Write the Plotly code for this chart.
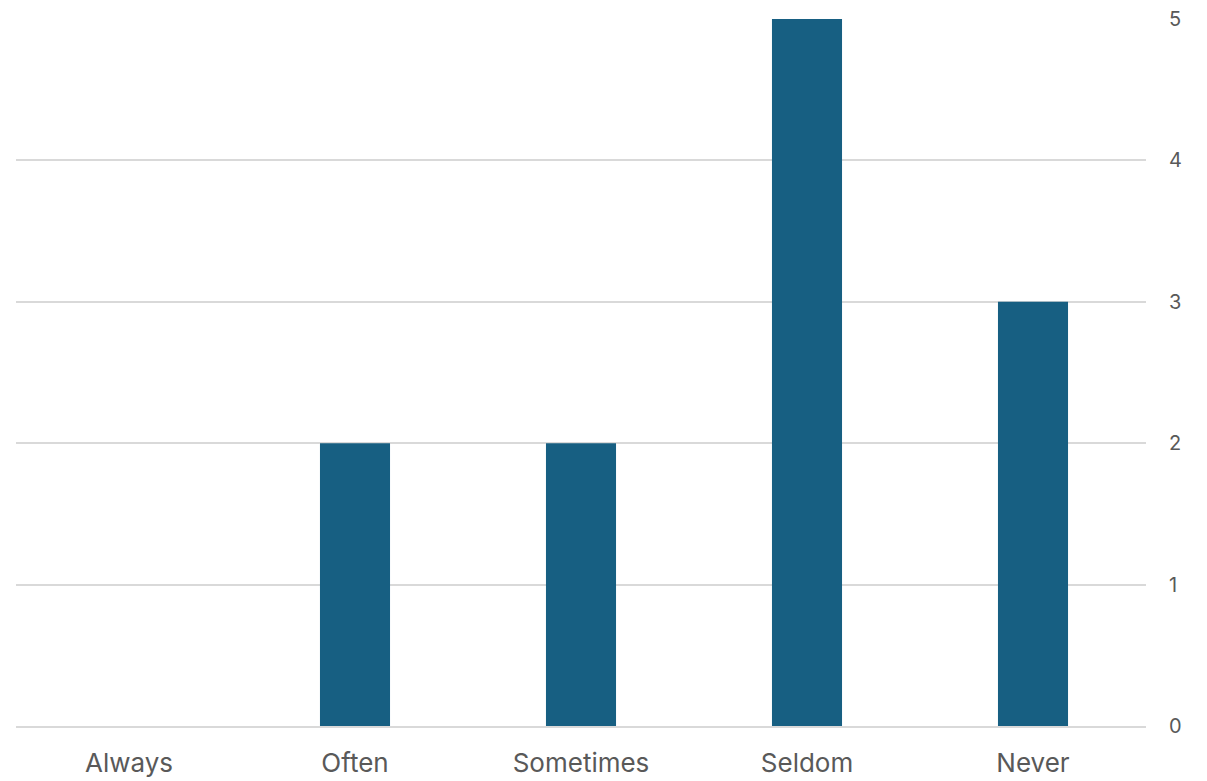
import plotly.graph_objects as go

categories = ["Always", "Often", "Sometimes", "Seldom", "Never"]
values = [0, 2, 2, 5, 3]
y_ticks = [0, 1, 2, 3, 4, 5]

fig = go.Figure(go.Bar(x=categories, y=values, marker=dict(color="#175f82", line=dict(width=0)), width=0.31))

fig.update_layout(
    width=1207, height=781,
    margin=dict(l=16, r=61, t=19, b=55),
    paper_bgcolor="white", plot_bgcolor="white",
    font=dict(family="Inter, Open Sans, sans-serif", size=20, color="#595959"),
    showlegend=False,
)
fig.update_xaxes(showgrid=False, showline=True, linecolor="#d9d9d9", linewidth=1.5,
                 ticks="", ticklabelstandoff=13, zeroline=False, automargin=False,
                 tickfont=dict(size=26))
fig.update_yaxes(side="right", range=[0, 5], tickvals=y_ticks, showgrid=True, gridcolor="#d9d9d9",
                 gridwidth=1.5, zeroline=False, showline=False, ticks="", ticklabelstandoff=22,
                 automargin=False, tickfont=dict(size=20))

fig.write_html("out.html", config={"displayModeBar": False},
               post_script="document.body.style.margin='0';")
